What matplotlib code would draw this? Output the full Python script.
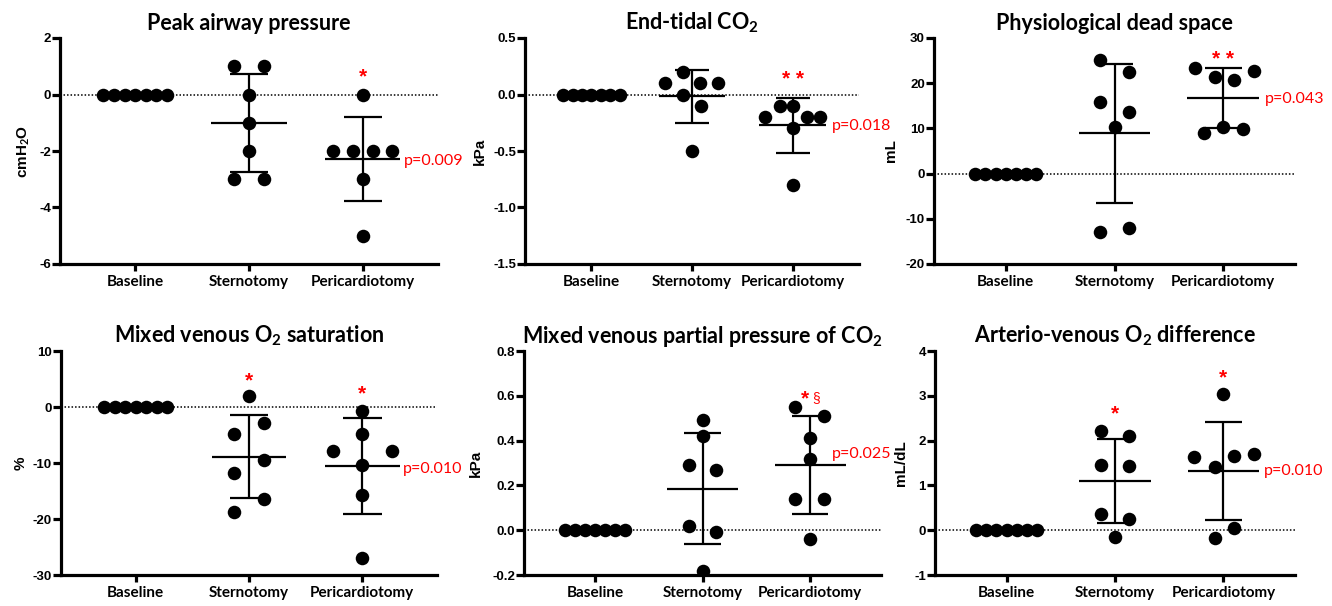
import matplotlib
matplotlib.use("Agg")
import matplotlib.pyplot as plt
import numpy as np

plt.rcParams['mathtext.fontset'] = 'custom'
plt.rcParams['mathtext.rm'] = 'Lato'
plt.rcParams['mathtext.bf'] = 'Lato:bold'
plt.rcParams['axes.unicode_minus'] = False

groups = ["Baseline", "Sternotomy", "Pericardiotomy"]

# peak airway pressure, cmH2O
paw_base = [0, 0, 0, 0, 0, 0, 0]
paw_stern = [1, 1, 0, -1, -2, -3, -3]
paw_peri = [0, -2, -2, -2, -2, -3, -5]

# end-tidal CO2, kPa
etco2_base = [0, 0, 0, 0, 0, 0, 0]
etco2_stern = [0.2, 0.1, 0.1, 0.1, 0.0, -0.1, -0.5]
etco2_peri = [-0.1, -0.1, -0.2, -0.2, -0.2, -0.3, -0.8]

# physiological dead space, mL
vd_base = [0, 0, 0, 0, 0, 0, 0]
vd_stern = [25.2, 22.4, 15.8, 13.6, 10.2, -12.9, -12.1]
vd_peri = [23.3, 21.3, 20.6, 22.6, 8.9, 10.4, 9.8]

# mixed venous O2 saturation, %
svo2_base = [0, 0, 0, 0, 0, 0, 0]
svo2_stern = [1.9, -2.9, -4.8, -9.4, -11.8, -16.4, -18.7]
svo2_peri = [-0.8, -4.8, -7.8, -7.8, -10.3, -15.8, -27.0]

# mixed venous pCO2, kPa
pvco2_base = [0, 0, 0, 0, 0, 0, 0]
pvco2_stern = [0.49, 0.42, 0.29, 0.27, 0.02, -0.01, -0.18]
pvco2_peri = [0.55, 0.51, 0.41, 0.32, 0.14, 0.14, -0.04]

# arterio-venous O2 difference, mL/dL
avo2_base = [0, 0, 0, 0, 0, 0, 0]
avo2_stern = [2.22, 2.11, 1.46, 1.43, 0.36, 0.25, -0.15]
avo2_peri = [3.05, 1.63, 1.65, 1.70, 1.40, 0.05, -0.17]

# horizontal scatter of the dots (layout only)
base_dx = [-0.28, -0.187, -0.093, 0, 0.093, 0.187, 0.28]
paw_dx = [[-0.135, 0.135, 0, 0, 0, -0.135, 0.135], [0, -0.26, -0.09, 0.09, 0.26, 0, 0]]
etco2_dx = [[-0.09, -0.27, 0.08, 0.26, -0.09, 0.09, 0], [-0.13, 0, -0.27, 0.14, 0.27, 0, 0]]
vd_dx = [[-0.13, 0.135, -0.13, 0.135, 0, -0.13, 0.135], [-0.26, -0.08, 0.10, 0.28, -0.175, 0, 0.18]]
svo2_dx = [[0, 0.13, -0.13, 0.13, -0.13, 0.13, -0.13], [0, 0, -0.26, 0.26, 0, 0, 0]]
pvco2_dx = [[0, 0, -0.13, 0.13, -0.13, 0.13, 0], [-0.14, 0.13, 0, 0, -0.14, 0.13, 0]]
avo2_dx = [[-0.13, 0.13, -0.13, 0.13, -0.13, 0.13, 0], [0, -0.27, 0.10, 0.28, -0.08, 0.10, -0.08]]

panels = [
    dict(title="Peak airway pressure", ylabel="cmH$_\\mathbf{2}$O",
         data=[paw_base, paw_stern, paw_peri], dx=paw_dx,
         ticks=[-6, -4, -2, 0, 2], fmt="{:g}", lab_x=-0.074,
         stars=[(2, 0.62, "*")], p=(2.36, -2.35, "p=0.009"),
         rect=[60, 38, 438, 264]),
    dict(title="End-tidal CO$_\\mathbf{2}$", ylabel="kPa",
         data=[etco2_base, etco2_stern, etco2_peri], dx=etco2_dx,
         ticks=[-1.5, -1.0, -0.5, 0.0, 0.5], fmt="{:.1f}", lab_x=-0.114,
         stars=[(2, 0.13, "* *")], p=(2.39, -0.28, "p=0.018"),
         rect=[525, 38, 859, 264]),
    dict(title="Physiological dead space", ylabel="mL",
         data=[vd_base, vd_stern, vd_peri], dx=vd_dx,
         ticks=[-20, -10, 0, 10, 20, 30], fmt="{:g}", lab_x=-0.10,
         stars=[(2, 25.2, "* *")], p=(2.38, 16.5, "p=0.043"),
         rect=[934, 38, 1295, 264]),
    dict(title="Mixed venous O$_\\mathbf{2}$ saturation", ylabel="%",
         data=[svo2_base, svo2_stern, svo2_peri], dx=svo2_dx,
         ticks=[-30, -20, -10, 0, 10], fmt="{:g}", lab_x=-0.09,
         stars=[(1, 4.6, "*"), (2, 2.4, "*")], p=(2.36, -11.0, "p=0.010"),
         rect=[61, 351, 437, 575]),
    dict(title="Mixed venous partial pressure of CO$_\\mathbf{2}$", ylabel="kPa",
         data=[pvco2_base, pvco2_stern, pvco2_peri], dx=pvco2_dx,
         ticks=[-0.2, 0.0, 0.2, 0.4, 0.6, 0.8], fmt="{:.1f}", lab_x=-0.115,
         stars=[(1.955, 0.585, "*")], p=(2.2, 0.342, "p=0.025"),
         rect=[524, 351, 881, 575]),
    dict(title="Arterio-venous O$_\\mathbf{2}$ difference", ylabel="mL/dL",
         data=[avo2_base, avo2_stern, avo2_peri], dx=avo2_dx,
         ticks=[-1, 0, 1, 2, 3, 4], fmt="{:g}", lab_x=-0.075,
         stars=[(1, 2.6, "*"), (2, 3.41, "*")], p=(2.37, 1.33, "p=0.010"),
         rect=[935, 351, 1295, 575]),
]

W, H = 1332, 606
fig = plt.figure(figsize=(W / 100, H / 100), dpi=100)

for pn in panels:
    x0, y0, x1, y1 = pn["rect"]
    ax = fig.add_axes([x0 / W, 1 - y1 / H, (x1 - x0) / W, (y1 - y0) / H])

    ax.axhline(0, color="black", lw=1.1, ls=(0, (1, 1.3)), zorder=1)

    for i, vals in enumerate(pn["data"]):
        vals = np.array(vals, dtype=float)
        dx = base_dx if i == 0 else pn["dx"][i - 1]
        ax.scatter(i + np.array(dx), vals, s=95, color="black", zorder=3,
                   linewidths=0)
        m = vals.mean()
        sd = vals.std(ddof=1)
        ax.hlines(m, i - 0.33, i + 0.33, color="black", lw=1.6, zorder=2)
        if sd > 0:
            ax.vlines(i, m - sd, m + sd, color="black", lw=1.6, zorder=2)
            ax.hlines([m - sd, m + sd], i - 0.17, i + 0.17, color="black",
                      lw=1.6, zorder=2)

    for sx, sy, s in pn["stars"]:
        ax.text(sx, sy, s, color="red", fontsize=15, fontweight="bold",
                ha="center", va="center", family="Liberation Sans")
    if pn["title"].startswith("Mixed venous partial"):
        ax.text(2.055, 0.59, "§", color="red", fontsize=10, ha="center",
                va="center", family="Liberation Sans")

    px, py, ptxt = pn["p"]
    ax.text(px, py, ptxt, color="red", fontsize=11.5, ha="left", va="center",
            family="Lato", clip_on=False)

    ax.set_xlim(-0.66, 2.66)
    ax.set_ylim(pn["ticks"][0], pn["ticks"][-1])
    ax.set_xticks([0, 1, 2])
    ax.set_xticklabels(groups, fontsize=11, fontweight="bold", family="Lato")
    ax.set_yticks(pn["ticks"])
    ax.set_yticklabels([pn["fmt"].format(t) for t in pn["ticks"]],
                       fontsize=9.5, fontweight="bold", family="Liberation Sans")
    ax.set_ylabel(pn["ylabel"], fontsize=11, fontweight="bold",
                  family="Liberation Sans")
    ax.yaxis.set_label_coords(pn["lab_x"], 0.5)
    ax.set_title(pn["title"], fontsize=15.5, fontweight="bold", family="Lato",
                 pad=6)

    for side in ["top", "right"]:
        ax.spines[side].set_visible(False)
    for side in ["left", "bottom"]:
        ax.spines[side].set_linewidth(2.3)
    ax.tick_params(axis="y", width=2.3, length=5.5, pad=1)
    ax.tick_params(axis="x", width=2.3, length=5, pad=3)

fig.savefig("out.png", dpi=100)
